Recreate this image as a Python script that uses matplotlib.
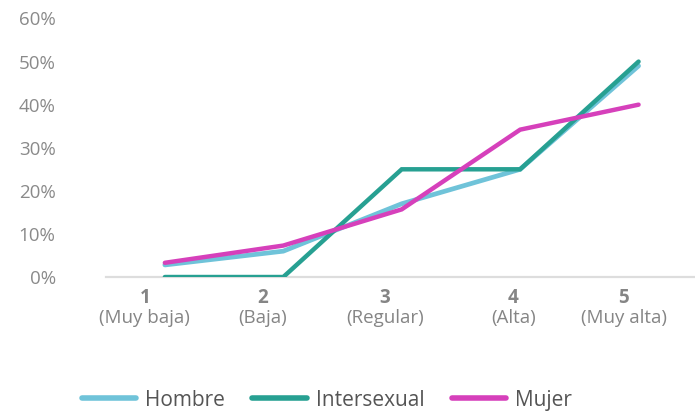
import matplotlib
matplotlib.use("Agg")
import matplotlib.pyplot as plt
import matplotlib.transforms as mtransforms
from matplotlib.ticker import FuncFormatter

categories = [1, 2, 3, 4, 5]
cat_numbers = ["1", "2", "3", "4", "5"]
cat_names = ["(Muy baja)", "(Baja)", "(Regular)", "(Alta)", "(Muy alta)"]
hombre = [0.028, 0.060, 0.170, 0.250, 0.490]
intersexual = [0.0, 0.0, 0.250, 0.250, 0.500]
mujer = [0.033, 0.073, 0.157, 0.342, 0.400]
yticks = [0.0, 0.1, 0.2, 0.3, 0.4, 0.5, 0.6]

label_shift_px = [-20, -21, -17, -7, -15]

plt.rcParams['font.family'] = ['Open Sans', 'DejaVu Sans']

fig = plt.figure(figsize=(6.95, 4.11), dpi=100)
ax = fig.add_axes([0.152, 0.326, 0.852, 0.629])

ax.plot(categories, hombre, color='#6fc3d9', lw=3.4, solid_capstyle='round',
        solid_joinstyle='miter', label='Hombre', zorder=3)
ax.plot(categories, intersexual, color='#27a092', lw=3.2, solid_capstyle='round',
        solid_joinstyle='miter', label='Intersexual', zorder=4)
ax.plot(categories, mujer, color='#d640bb', lw=3.2, solid_capstyle='round',
        solid_joinstyle='miter', label='Mujer', zorder=5)

ax.set_xlim(0.5, 5.5)
ax.set_ylim(0, 0.6)
ax.set_yticks(yticks)
ax.yaxis.set_major_formatter(FuncFormatter(lambda v, p: f"{v*100:.0f}%"))
ax.tick_params(axis='y', length=0, pad=36, labelsize=13.5, labelcolor='#8a8a8a')
ax.set_xticks([])
for s in ['top', 'right', 'left']:
    ax.spines[s].set_visible(False)
ax.spines['bottom'].set_color('#dddddd')
ax.spines['bottom'].set_linewidth(1.6)
ax.spines['bottom'].set_zorder(1)

trans = mtransforms.blended_transform_factory(ax.transData, ax.transAxes)
for x, num, name, sh in zip(categories, cat_numbers, cat_names, label_shift_px):
    off = mtransforms.ScaledTranslation(sh / 100, 0, fig.dpi_scale_trans)
    ax.text(x, 0, num, transform=trans + off + mtransforms.ScaledTranslation(0, -21 / 100, fig.dpi_scale_trans),
            ha='center', va='center', fontsize=13.5, fontweight='bold', color='#858585')
    ax.text(x, 0, name, transform=trans + off + mtransforms.ScaledTranslation(0, -41 / 100, fig.dpi_scale_trans),
            ha='center', va='center', fontsize=13.5, color='#858585')

leg = fig.legend(loc='center', bbox_to_anchor=(327 / 695, 1 - 400 / 411), ncol=3,
                 frameon=False, fontsize=15, handlelength=2.6, handletextpad=0.45,
                 columnspacing=1.3, labelcolor='#555555')
for line in leg.get_lines():
    line.set_linewidth(4)
    line.set_solid_capstyle('round')

fig.savefig('out.png', dpi=100)
